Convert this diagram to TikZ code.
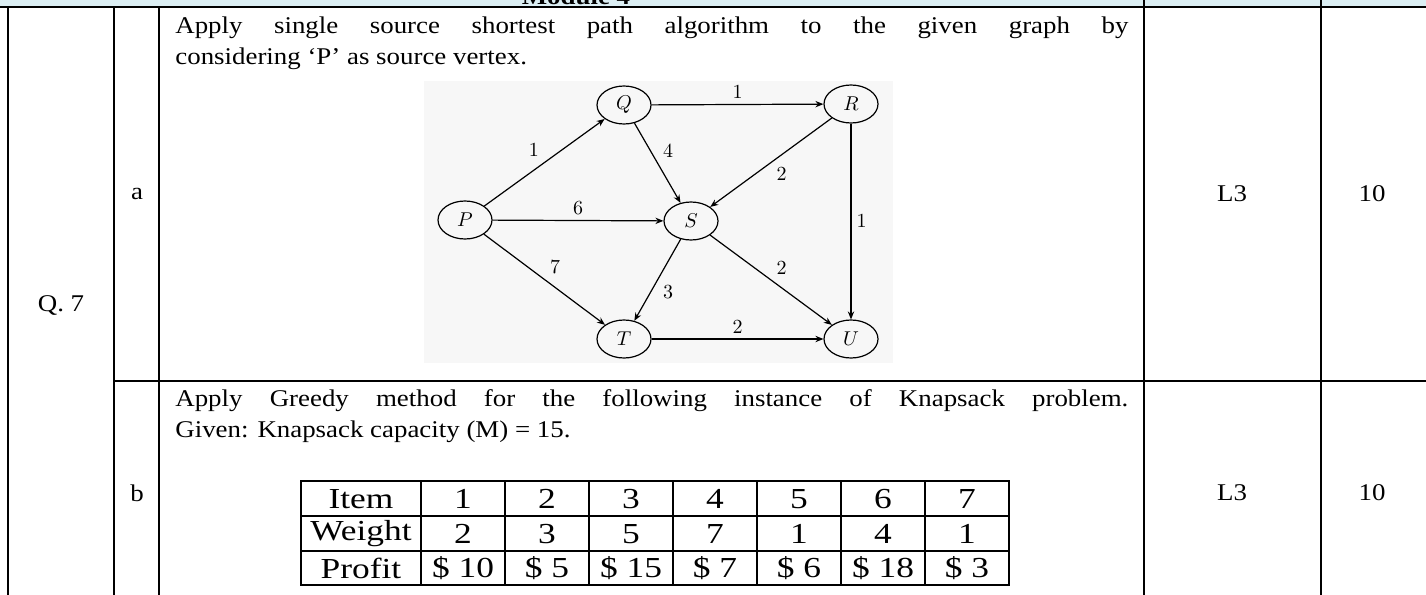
\documentclass[tikz,border=0pt]{standalone}
\usepackage[no-math]{fontspec}
\setmainfont{Liberation Serif}[FakeStretch=1.12]
\newfontfamily\tabfont{Liberation Serif}[FakeStretch=1.22]
\usepackage{amsmath}
\usetikzlibrary{arrows.meta,shapes.geometric}

\definecolor{bandblue}{RGB}{219,238,243}
\definecolor{picgray}{RGB}{247,247,247}

\begin{document}
\begin{tikzpicture}[x=0.5pt,y=-0.5pt,font=\fontsize{12}{15}\selectfont,
    vertex/.style={draw,ellipse,line width=0.6pt,minimum width=27pt,minimum height=19pt,inner sep=0pt,font=\fontsize{10}{12}\selectfont},
    wt/.style={font=\fontsize{10}{12}\selectfont,inner sep=2.5pt},
    edge/.style={-{Stealth[length=4pt,width=3.2pt]},line width=0.6pt},
    rule/.style={line width=1.1pt},
    cell/.style={font=\tabfont\fontsize{14.5}{16}\selectfont}]

    \useasboundingbox (0,0) rectangle (1426,595);

    % 标题栏
    \fill[bandblue] (0,0) rectangle (1426,7);
    \node[font=\fontsize{12}{15}\bfseries,anchor=base] (mod) at (576,4) {Module 4};

    % 表格线
    \draw[rule] (0,7) -- (1426,7);
    \draw[rule] (8,7) -- (8,595);
    \draw[rule] (114,7) -- (114,595);
    \draw[rule] (159,7) -- (159,595);
    \draw[rule] (1144,0) -- (1144,595);
    \draw[rule] (1321,0) -- (1321,595);
    \draw[rule] (114,381) -- (1426,381);

    % 左侧与右侧标注
    \node (q7) at (61,305) {Q. 7};
    \node (pa) at (137,194) {a};
    \node (pb) at (137,493) {b};
    \node (la) at (1232,194) {L3};
    \node (ma) at (1372,194) {10};
    \node (lb) at (1232,493) {L3};
    \node (mb) at (1372,493) {10};

    % 题目 a
    \node[anchor=base west,inner sep=0pt] (qa1) at (175,33) {\makebox[476.5pt][s]{Apply single source shortest path algorithm to the given graph by}};
    \node[anchor=base west,inner sep=0pt] (qa2) at (175,64) {considering ‘P’ as source vertex.};

    % 图的背景
    \fill[picgray] (424,81) rectangle (893,363);

    % 顶点
    \node[vertex] (P) at (465,220) {$P$};
    \node[vertex] (Q) at (624,105) {$Q$};
    \node[vertex] (R) at (851,104) {$R$};
    \node[vertex] (S) at (691,221) {$S$};
    \node[vertex] (T) at (624,339) {$T$};
    \node[vertex] (U) at (851,339) {$U$};

    % 有向边及权值
    \draw[edge] (P) -- node[wt,above left] {$1$} (Q);
    \draw[edge] (Q) -- node[wt,above] {$1$} (R);
    \draw[edge] (Q) -- node[wt,above right] {$4$} (S);
    \draw[edge] (R) -- node[wt,below right] {$2$} (S);
    \draw[edge] (P) -- node[wt,above] {$6$} (S);
    \draw[edge] (R) -- node[wt,right] {$1$} (U);
    \draw[edge] (P) -- node[wt,above right] {$7$} (T);
    \draw[edge] (S) -- node[wt,below right] {$3$} (T);
    \draw[edge] (S) -- node[wt,above right] {$2$} (U);
    \draw[edge] (T) -- node[wt,above] {$2$} (U);

    % 题目 b
    \node[anchor=base west,inner sep=0pt] (qb1) at (175,406) {\makebox[476.5pt][s]{Apply Greedy method for the following instance of Knapsack problem.}};
    \node[anchor=base west,inner sep=0pt] (qb2) at (175,437) {Given: Knapsack capacity (M) = 15.};

    % 背包数据表
    \draw[rule] (301,481) rectangle (1009,585);
    \foreach \y in {516,551} \draw[line width=0.9pt] (301,\y) -- (1009,\y);
    \foreach \x in {421,505,...,925} \draw[line width=0.9pt] (\x,481) -- (\x,585);
    \node[cell] (item) at (361,499) {Item};
    \node[cell] (weight) at (361,534) {Weight};
    \node[cell] (profit) at (361,568) {Profit};
    \foreach \v [count=\i] in {1,...,7} \node[cell] (it\i) at (379+84*\i,499) {\v};
    \foreach \v [count=\i] in {2,3,5,7,1,4,1} \node[cell] (w\i) at (379+84*\i,534) {\v};
    \foreach \v [count=\i] in {10,5,15,7,6,18,3} \node[cell] (p\i) at (379+84*\i,568) {\$ \v};
\end{tikzpicture}
\end{document}
